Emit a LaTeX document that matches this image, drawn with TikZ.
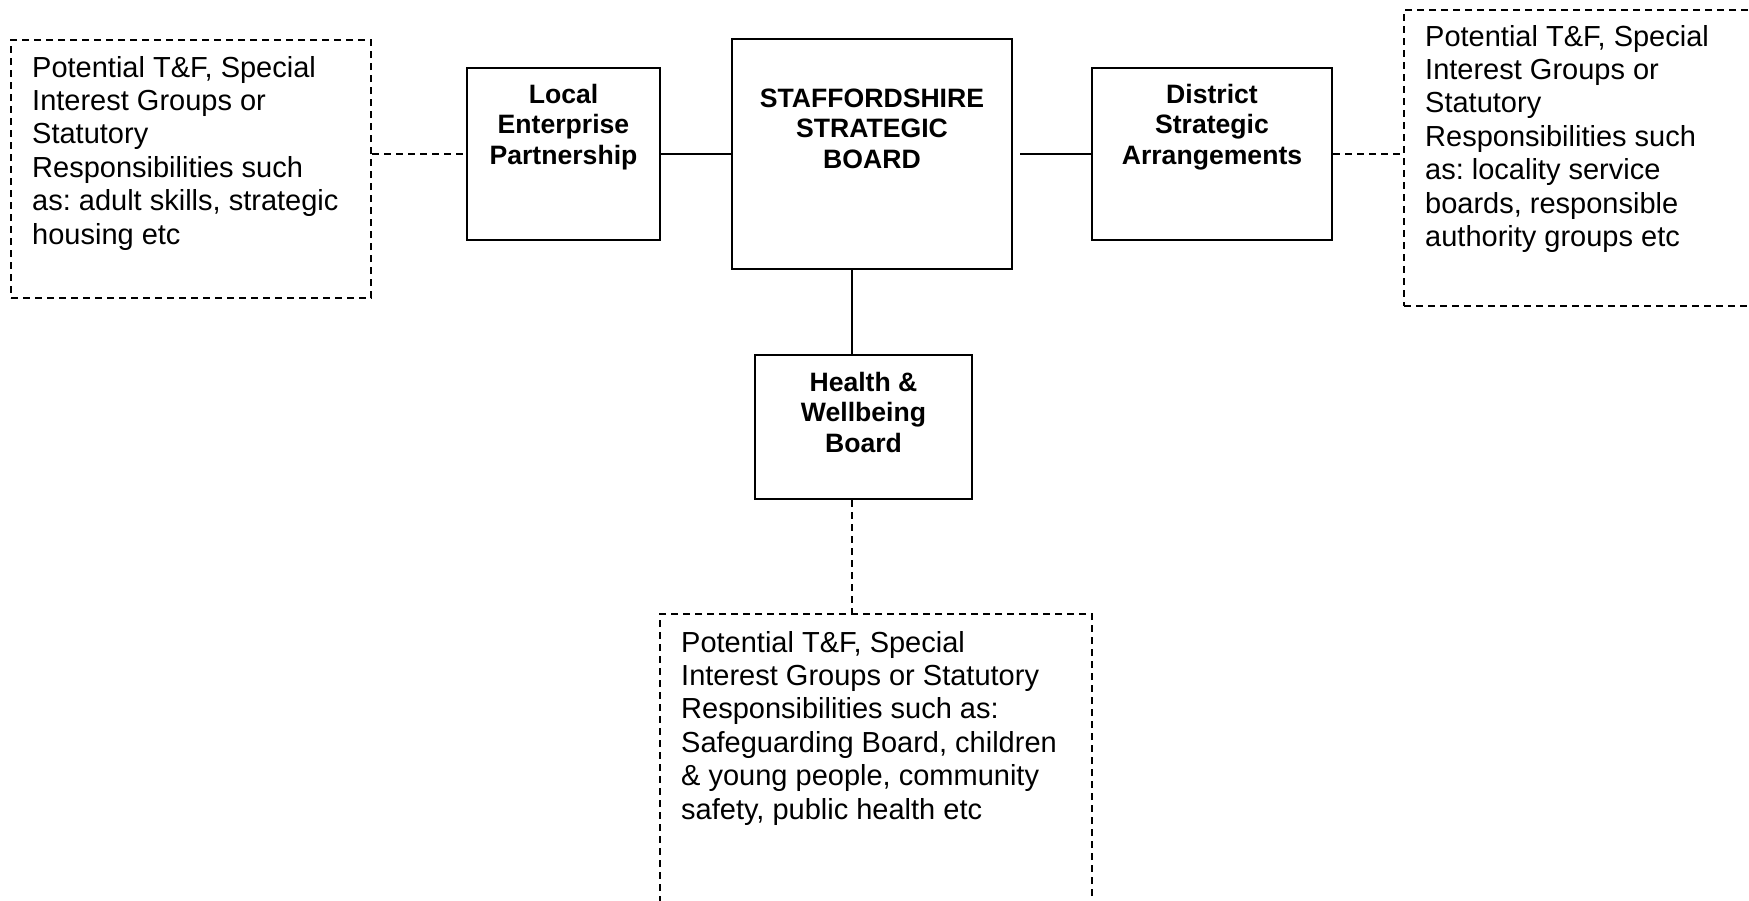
\documentclass[tikz,border=0pt]{standalone}
\usepackage{fontspec}
\setmainfont{Liberation Sans}
\frenchspacing
\begin{document}
\begin{tikzpicture}[x=1pt,y=-1pt,
  boxline/.style={line width=2.2pt},
  dashline/.style={line width=2pt,dash pattern=on 7pt off 5pt},
  solidbox/.style={draw,boxline,rectangle,inner sep=0pt},
  dashbox/.style={draw,dashline,rectangle,inner sep=0pt},
  titletext/.style={anchor=base,inner sep=0pt,font=\bfseries\fontsize{26.6}{30.7}\selectfont},
  notetext/.style={anchor=base west,inner sep=0pt,font=\fontsize{29}{33.4}\selectfont},
  link/.style={boxline},
  dashlink/.style={dashline}]
\useasboundingbox (0,0) rectangle (1749,900);
\clip (0,0) rectangle (1749,900);

% board boxes
\node[solidbox,minimum width=280pt,minimum height=230pt] (ssb) at (872,154) {};
\node[solidbox,minimum width=193pt,minimum height=172pt] (lep) at (563.5,154) {};
\node[solidbox,minimum width=240pt,minimum height=172pt] (dsa) at (1212,154) {};
\node[solidbox,minimum width=217pt,minimum height=144pt] (hwb) at (863.5,427) {};

% sub-group boxes (dashed)
\node[dashbox,minimum width=360pt,minimum height=258pt] (leftgrp) at (191,169) {};
\node[dashbox,minimum width=366pt,minimum height=296pt] (rightgrp) at (1587,158) {};
\node[dashbox,minimum width=432pt,minimum height=306pt] (lowgrp) at (876,767) {};

% board titles
\node[titletext] (ssbtxt) at (872,107)
  {\begin{tabular}[t]{@{}c@{}}STAFFORDSHIRE\\STRATEGIC\\BOARD\end{tabular}};
\node[titletext] (leptxt) at (563.5,103)
  {\begin{tabular}[t]{@{}c@{}}Local\\Enterprise\\Partnership\end{tabular}};
\node[titletext] (dsatxt) at (1212,103)
  {\begin{tabular}[t]{@{}c@{}}District\\Strategic\\Arrangements\end{tabular}};
\node[titletext] (hwbtxt) at (863.5,391)
  {\begin{tabular}[t]{@{}c@{}}Health \&\\Wellbeing\\Board\end{tabular}};

% sub-group descriptions
\node[notetext] (lefttxt) at (32,77)
  {\begin{tabular}[t]{@{}l@{}}Potential T\&F, Special\\Interest Groups or\\Statutory\\Responsibilities such\\as: adult skills, strategic\\housing etc\end{tabular}};
\node[notetext] (righttxt) at (1425,46)
  {\begin{tabular}[t]{@{}l@{}}Potential T\&F, Special\\Interest Groups or\\Statutory\\Responsibilities such\\as: locality service\\boards, responsible\\authority groups etc\end{tabular}};
\node[notetext] (lowtxt) at (681,652)
  {\begin{tabular}[t]{@{}l@{}}Potential T\&F, Special\\Interest Groups or Statutory\\Responsibilities such as:\\Safeguarding Board, children\\\& young people, community\\safety, public health etc\end{tabular}};

% vertical spine position
\coordinate (spine) at (852,0);

% connectors
\draw[link] (lep.east) -- (ssb.west);
\draw[link] ([xshift=7pt]ssb.east) -- (dsa.west);
\draw[link] (ssb.south -| spine) -- (hwb.north -| spine);
\draw[dashlink] (leftgrp.east |- lep.west) -- (lep.west);
\draw[dashlink] (dsa.east) -- (rightgrp.west |- dsa.east);
\draw[dashlink] (hwb.south -| spine) -- (lowgrp.north -| spine);
\end{tikzpicture}
\end{document}
